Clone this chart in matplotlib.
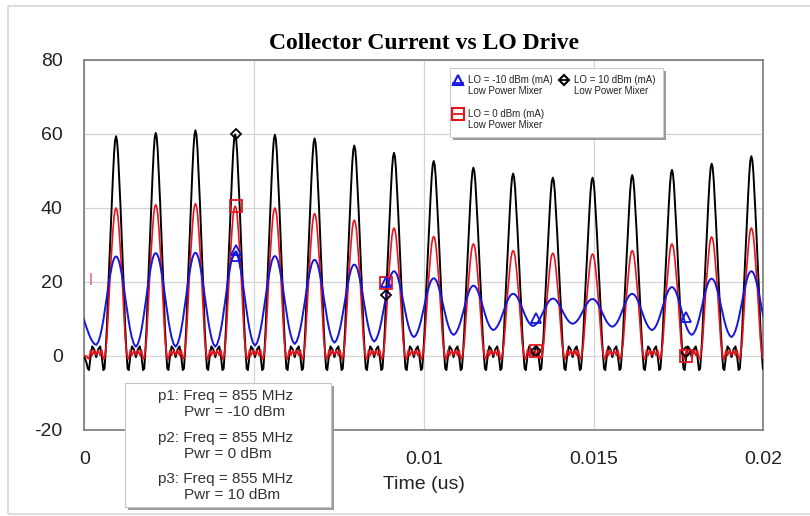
import numpy as np
import matplotlib.pyplot as plt
from matplotlib.patches import Rectangle
from matplotlib.lines import Line2D

plt.rcParams['font.family'] = ['Liberation Sans', 'DejaVu Sans']

# LO drive frequency (MHz) and time of first current peak (us)
freq_mhz = 855
t_first_peak = 0.000935

# per-cycle peak values (mA); first entry = partial cycle before t=0
peaks_m10 = [13.0, 26.9, 27.8, 27.9, 28.0, 27.0, 26.0, 24.7, 22.9, 21.0,
             19.0, 16.8, 15.5, 15.4, 16.8, 18.6, 20.9, 22.9]
troughs_m10 = [3.0, 3.0, 2.5, 2.5, 2.5, 2.8, 3.25, 3.6, 3.9, 5.1,
               5.7, 7.0, 8.1, 8.7, 7.9, 7.0, 5.7, 5.1, 4.5]
peaks_0 = [0.0, 40.0, 40.9, 41.2, 40.5, 40.0, 38.5, 36.7, 34.6, 32.3,
           30.3, 28.5, 27.8, 27.6, 28.5, 30.3, 32.2, 34.6]
peaks_p10 = [0.0, 59.4, 60.3, 61.0, 59.9, 59.8, 58.8, 56.9, 54.9, 52.7,
             50.9, 49.3, 48.2, 48.2, 48.9, 50.3, 52.0, 54.0]

# one half cycle of each waveform shape (peak at phase 0)
phase_half = [-0.5, -0.45, -0.40, -0.36, -0.32, -0.29, -0.26, -0.23,
              -0.20, -0.17, -0.14, -0.11, -0.08, -0.05, -0.025, 0.0]
shape_m10 = [0, 0.03, 0.10, 0.18, 0.28, 0.37, 0.46, 0.55,
             0.65, 0.74, 0.81, 0.88, 0.94, 0.975, 0.995, 1.0]
pulse_0 = [0, 0, 0, 0, 0, 0, 0.04, 0.12, 0.27, 0.43, 0.59, 0.72, 0.84, 0.94, 0.985, 1.0]
ripple_0 = [0.3, 1.5, 0.2, 1.6, -0.8, -0.6, 0, 0, 0, 0, 0, 0, 0, 0, 0, 0]
pulse_p10 = [0, 0, 0, 0, 0, 0, 0.06, 0.15, 0.29, 0.42, 0.55, 0.69, 0.81, 0.92, 0.98, 1.0]
ripple_p10 = [-0.3, 1.8, 2.6, 0.0, -3.8, -3.4, -2.0, -1.0, 0, 0, 0, 0, 0, 0, 0, 0]

# marker points
marker_t = [0.00447, 0.00889, 0.0133, 0.01772]
marker_m10 = [28.7, 20.0, 10.2, 10.6]
marker_m10_extra = [27.1]
marker_0 = [40.5, 19.8, 1.4, 0.0]
marker_p10 = [60.0, 16.5, 1.4, 1.2]

xticks = [0, 0.005, 0.01, 0.015, 0.02]
xticklabels = ['0', '', '0.01', '0.015', '0.02']  # 0.005 sits under the info box
yticks = [-20, 0, 20, 40, 60, 80]
yticklabels = ['-20', '0', '20', '40', '60', '80']

box_lines = [('p1: Freq = 855 MHz', 'Pwr = -10 dBm'),
             ('p2: Freq = 855 MHz', 'Pwr = 0 dBm'),
             ('p3: Freq = 855 MHz', 'Pwr = 10 dBm')]


def mirror(a, neg=False):
    a = np.array(a, dtype=float)
    b = a[-2::-1]
    return np.concatenate([a, -b if neg else b])


def waveform(peaks, shape, ripple=None, troughs=None):
    period = 1.0 / freq_mhz
    ph = mirror(phase_half, neg=True)
    sh = mirror(shape)
    rp = mirror(ripple) if ripple is not None else None
    ts, ys = [], []
    n = len(peaks)
    for k, p in enumerate(peaks):
        tc = t_first_peak + (k - 1) * period
        if troughs is not None:
            lo = np.where(ph < 0, troughs[k], troughs[k + 1])
            y = lo + (p - lo) * sh
        else:
            y = p * sh + rp
        end = len(ph) if k == n - 1 else len(ph) - 1
        ts.append(tc + ph[:end] * period)
        ys.append(y[:end])
    return np.concatenate(ts), np.concatenate(ys)


W, H = 810, 516
fig = plt.figure(figsize=(W / 100, H / 100), dpi=100)
ax = fig.add_axes([84.3 / W, 1 - 430 / H, 679 / W, 370 / H])

blue = '#1616e0'
red = '#e8141c'

t, y = waveform(peaks_p10, pulse_p10, ripple_p10)
ax.plot(t, y, color='black', lw=1.4, zorder=3)
t, y = waveform(peaks_0, pulse_0, ripple_0)
ax.plot(t, y, color=red, lw=1.2, zorder=4)
t, y = waveform(peaks_m10, shape_m10, troughs=troughs_m10)
ax.plot(t, y, color=blue, lw=1.4, zorder=5)

ax.plot(marker_t, marker_p10, ls='none', marker='D', ms=5, mfc='none',
        mec='black', mew=1.3, zorder=6)
ax.plot(marker_t, marker_0, ls='none', marker='s', ms=8, mfc='none',
        mec=red, mew=1.3, zorder=6)
ax.plot(marker_t, marker_m10, ls='none', marker='^', ms=7, mfc='none',
        mec=blue, mew=1.3, zorder=6)
ax.plot(marker_t[:1], marker_m10_extra, ls='none', marker='^', ms=7, mfc='none',
        mec=blue, mew=1.3, zorder=6)
ax.plot([0.0002], [20.7], ls='none', marker='|', ms=8, mec='#e07088', mew=1.2)

ax.set_xlim(0, 0.02)
ax.set_ylim(-20, 80)
ax.set_xticks(xticks)
ax.set_xticklabels(xticklabels)
ax.set_yticks(yticks)
ax.set_yticklabels(yticklabels)
ax.tick_params(axis='both', length=0, labelsize=14, colors='#222222')
ax.tick_params(axis='x', pad=15)
ax.tick_params(axis='y', pad=15.5)
ax.grid(True, color='#d4d4d4', lw=0.9)
ax.set_axisbelow(True)
for s in ax.spines.values():
    s.set_color('#7a7a7a')
    s.set_linewidth(1.2)

ax.set_title('Collector Current vs LO Drive', fontsize=17, fontweight='bold',
             family=['Liberation Serif', 'DejaVu Serif'], pad=8)
ax.set_xlabel('Time (us)', fontsize=14, color='#222222', labelpad=6)


def fx(x):
    return x / W


def fy(y):
    return 1 - y / H


# figure frame (right side runs off the picture)
fig.add_artist(Rectangle((fx(8), fy(514)), (850 - 8) / W, (514 - 6) / H,
                         fill=False, ec='#d6d6d6', lw=1.2))

# legend box
fig.add_artist(Rectangle((fx(453), fy(140)), 213 / W, 69 / H, fc='#9a9a9a', ec='none', zorder=5))
fig.add_artist(Rectangle((fx(450), fy(137)), 213 / W, 69 / H, fc='white', ec='#cccccc', lw=0.8, zorder=6))
legend_items = [(458, 80, '^', blue, 7, 'LO = -10 dBm (mA)'),
                (564, 80, 'D', 'black', 5, 'LO = 10 dBm (mA)'),
                (458, 114, 's', red, 8, 'LO = 0 dBm (mA)')]
for lx, ly, mk, c, ms, lab in legend_items:
    fig.add_artist(Line2D([fx(lx - 5), fx(lx + 5)], [fy(ly + (3 if mk == '^' else 0))] * 2,
                          color=c, lw=1.3, zorder=7))
    fig.add_artist(Line2D([fx(lx)], [fy(ly)], ls='none', marker=mk, ms=ms, mfc='none',
                          mec=c, mew=1.5, zorder=7))
    fig.text(fx(lx + 9.5), fy(ly), lab, fontsize=7, va='center', ha='left', color='#222222', zorder=8)
    fig.text(fx(lx + 9.5), fy(ly + 10.7), 'Low Power Mixer', fontsize=7, va='center',
             ha='left', color='#222222', zorder=8)

# parameter box
fig.add_artist(Rectangle((fx(128), fy(510)), 206 / W, 124 / H, fc='#9a9a9a', ec='none', zorder=5))
fig.add_artist(Rectangle((fx(125), fy(507)), 206 / W, 124 / H, fc='white', ec='#c4c4c4', lw=0.8, zorder=6))
for i, (l1, l2) in enumerate(box_lines):
    y0 = [396, 438.3, 478.7][i]
    fig.text(fx(158), fy(y0), l1, fontsize=11, va='center', ha='left', color='#333333', zorder=8)
    fig.text(fx(184), fy(y0 + 16), l2, fontsize=11, va='center', ha='left', color='#333333', zorder=8)

fig.savefig('out.png', dpi=100, facecolor='white')
